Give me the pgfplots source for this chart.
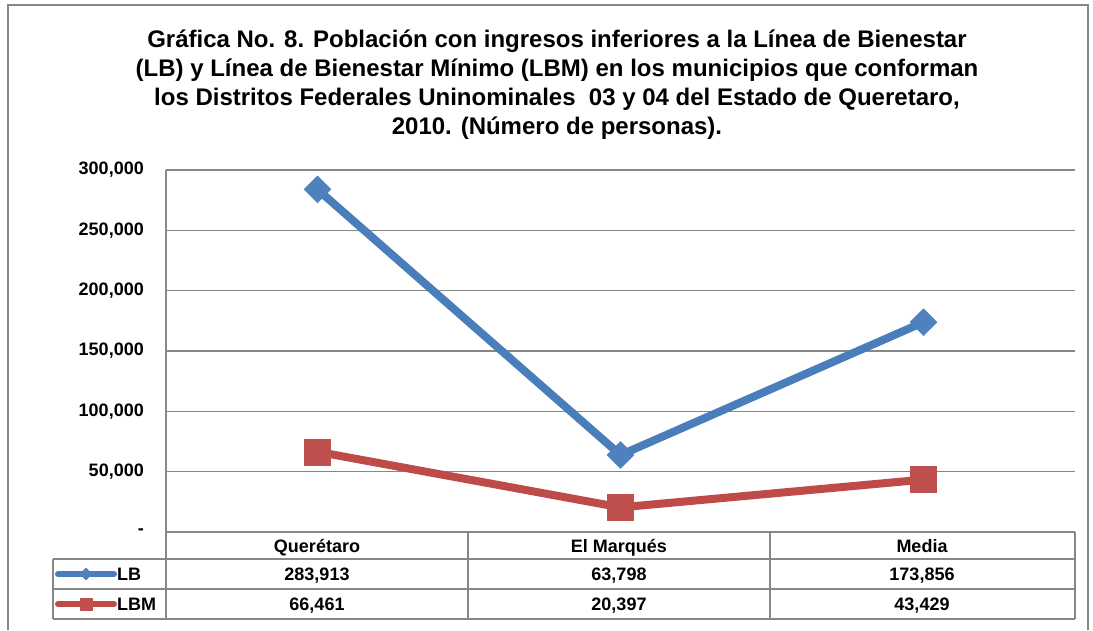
\documentclass[border=0pt]{standalone}
\usepackage{pgfplots}
\pgfplotsset{compat=1.18}
\usepackage{fontspec}
\setmainfont{Liberation Sans}
\definecolor{lbblue}{HTML}{4A7EBB}
\definecolor{lbbluef}{HTML}{4F81BD}
\definecolor{lbred}{HTML}{BE4B48}
\definecolor{lbredf}{HTML}{C0504D}
\definecolor{gridgray}{HTML}{878787}
\begin{document}
\begin{tikzpicture}[x=1pt,y=1pt]
\useasboundingbox (0,0) rectangle (1093,630);
\draw[gridgray, line width=1.5pt] (8,0) -- (8,625) -- (1088,625) -- (1088,0);
\node[align=center, font=\fontsize{24}{29}\selectfont\bfseries] at (557,545)
 {Gráfica No. 8. Población con ingresos inferiores a la Línea de Bienestar\\
  (LB) y Línea de Bienestar Mínimo (LBM) en los municipios que conforman\\
  los Distritos Federales Uninominales\ \ 03 y 04 del Estado de Queretaro,\\
  2010. (Número de personas).};
\begin{axis}[at={(166pt,98pt)}, anchor=south west, scale only axis,
  width=909pt, height=362pt,
  xmin=-0.5, xmax=2.5, ymin=0, ymax=300000,
  xtick=\empty, ytick={0,50000,100000,150000,200000,250000,300000},
  yticklabels={{-},{50,000},{100,000},{150,000},{200,000},{250,000},{300,000}},
  yticklabel style={font=\fontsize{18}{20}\selectfont\bfseries, inner sep=0pt},
  yticklabel shift=22pt,
  major tick length=0pt, tick style={draw=none},
  ymajorgrids, grid style={gridgray, line width=1.5pt},
  axis x line*=bottom, axis y line*=left,
  axis line style={gridgray, line width=1.5pt},
  clip=false, scaled y ticks=false,
  legend cell align=left,
  legend style={draw=none, fill=none, inner sep=0pt, outer sep=0pt,
    at={(axis description cs:-0.1221,-0.098)}, anchor=north west,
    font=\fontsize{18}{20}\selectfont\bfseries,
    nodes={inner sep=0pt, text height=13pt, text depth=0pt},
    row sep=17pt,
    /tikz/every even column/.append style={column sep=3pt}},
  legend image code/.code={\draw[#1, line width=6pt, line cap=round, mark repeat=2, mark phase=2, /tikz/every mark/.append style={scale=0.45}] plot coordinates {(0pt,0pt) (28pt,0pt) (56pt,0pt)};},
]
\addplot[lbblue, line width=8pt, line join=round, mark=square*, mark size=9.5pt,
  mark options={rotate=45, fill=lbbluef, draw=lbbluef, line width=0.5pt}]
  coordinates {(0,283913) (1,63798) (2,173856)};
\addplot[lbred, line width=8pt, line join=round, mark=square*, mark size=13pt,
  mark options={fill=lbredf, draw=lbredf, line width=0.5pt}]
  coordinates {(0,66461) (1,20397) (2,43429)};
\legend{LB, LBM}
\end{axis}
\begin{scope}[gridgray, line width=1.5pt]
\draw (53,71) -- (1075,71);
\draw (53,41) -- (1075,41);
\draw (53,11) -- (1075,11);
\draw (53,71) -- (53,11);
\draw (166,98) -- (166,11);
\draw (468,98) -- (468,11);
\draw (770,98) -- (770,11);
\draw (1075,98) -- (1075,11);
\end{scope}
\begin{scope}[every node/.style={font=\fontsize{18}{20}\selectfont\bfseries, anchor=base, inner sep=0pt}]
\node at (317,77.5) {Querétaro};
\node at (619,77.5) {El Marqués};
\node at (922,77.5) {Media};
\node at (317,49.5) {283,913};
\node at (619,49.5) {63,798};
\node at (922,49.5) {173,856};
\node at (317,19.5) {66,461};
\node at (619,19.5) {20,397};
\node at (922,19.5) {43,429};
\end{scope}
\end{tikzpicture}
\end{document}
